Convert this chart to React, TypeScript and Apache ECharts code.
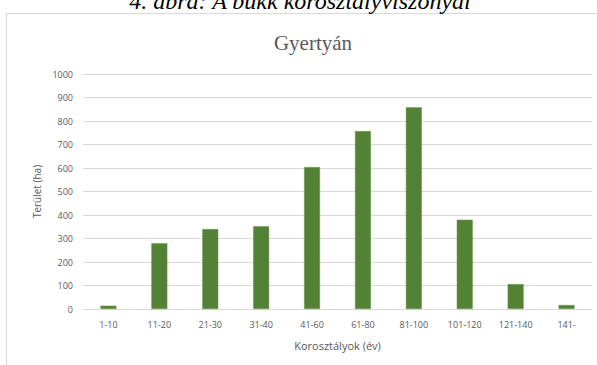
import React, { useEffect, useRef } from "react";
import * as echarts from "echarts";

const categories = ["1-10", "11-20", "21-30", "31-40", "41-60", "61-80", "81-100", "101-120", "121-140", "141-"];
const areaValues = [14, 280, 340, 352, 604, 757, 858, 380, 106, 17];
const captionText = "4. ábra: A bükk korosztályviszonyai";
const chartTitle = "Gyertyán";
const yAxisTitle = "Terület (ha)";
const xAxisTitle = "Korosztályok (év)";

export default function App() {
  const ref = useRef<HTMLDivElement>(null);
  useEffect(() => {
    if (!ref.current) return;
    const chart = echarts.init(ref.current, null, { renderer: "svg" });
    const sans = "'Open Sans', sans-serif";
    chart.setOption({
      animation: false,
      backgroundColor: "#ffffff",
      title: {
        text: chartTitle,
        left: 308,
        top: 27,
        textAlign: "center",
        textStyle: {
          fontFamily: "'Liberation Serif', serif",
          fontSize: 21,
          fontWeight: "normal",
          color: "#595959",
        },
      },
      graphic: [
        {
          type: "rect",
          shape: { x: 6.5, y: 13.5, width: 620, height: 400 },
          style: { fill: "none", stroke: "#d9d9d9", lineWidth: 1 },
          silent: true,
        },
        {
          type: "text",
          x: 300,
          y: 12.5,
          style: {
            text: captionText,
            font: "italic 24px 'Liberation Serif', serif",
            fill: "#000000",
            align: "center",
            verticalAlign: "bottom",
          },
          silent: true,
        },
      ],
      grid: { left: 83, right: 5, top: 74, bottom: 56, containLabel: false },
      xAxis: {
        type: "category",
        data: categories,
        axisLine: { show: true, lineStyle: { color: "#d9d9d9" } },
        axisTick: { show: false },
        axisLabel: { fontFamily: sans, fontSize: 9, color: "#595959", margin: 11, interval: 0 },
        name: xAxisTitle,
        nameLocation: "middle",
        nameGap: 31,
        nameTextStyle: { fontFamily: sans, fontSize: 11, color: "#595959" },
      },
      yAxis: {
        type: "value",
        min: 0,
        max: 1000,
        interval: 100,
        axisLine: { show: false },
        axisTick: { show: false },
        splitLine: { lineStyle: { color: "#d9d9d9" } },
        axisLabel: {
          fontFamily: sans,
          fontSize: 9,
          color: "#595959",
          margin: 10,
          formatter: (v: number) => String(v),
        },
        name: yAxisTitle,
        nameLocation: "middle",
        nameGap: 37,
        nameTextStyle: { fontFamily: sans, fontSize: 10, color: "#595959" },
      },
      series: [
        {
          type: "bar",
          data: areaValues,
          barWidth: 16,
          itemStyle: { color: "#548235", borderColor: "#6e9a52", borderWidth: 0.5 },
        },
      ],
    });
    return () => chart.dispose();
  }, []);
  return (
    <div
      ref={ref}
      style={{ position: "fixed", left: 0, top: 0, width: 597, height: 365, background: "#fff" }}
    />
  );
}
